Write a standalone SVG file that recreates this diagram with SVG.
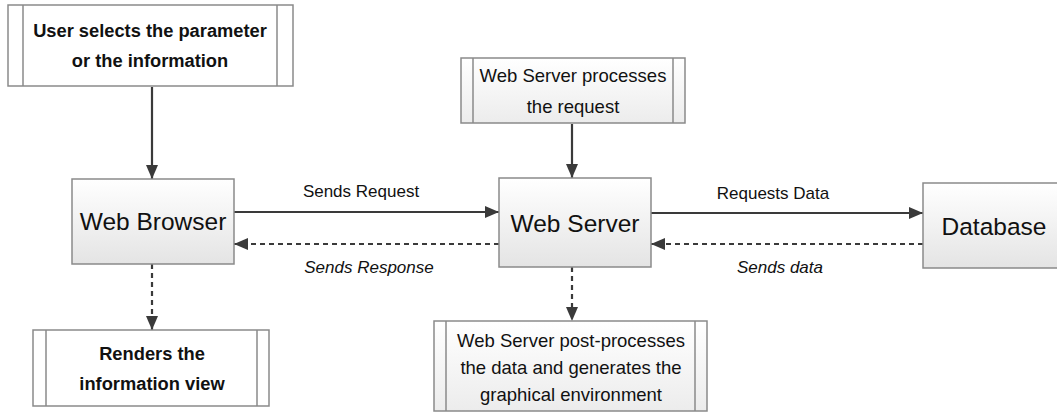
<svg xmlns="http://www.w3.org/2000/svg" width="1057" height="413" viewBox="0 0 1057 413">
<defs>
<linearGradient id="g" x1="0" y1="0" x2="0" y2="1">
<stop offset="0" stop-color="#ffffff"/>
<stop offset="1" stop-color="#e4e4e4"/>
</linearGradient>
<linearGradient id="g2" x1="0" y1="0" x2="0" y2="1">
<stop offset="0" stop-color="#ffffff"/>
<stop offset="1" stop-color="#ececec"/>
</linearGradient>
<marker id="ah" viewBox="0 0 14 12" refX="14" refY="6" markerWidth="14" markerHeight="12" markerUnits="userSpaceOnUse" orient="auto">
<path d="M0,0 L14,6 L0,12 Z" fill="#3a3a3a"/>
</marker>
</defs>
<style>
.box{fill:url(#g);stroke:#8a8a8a;stroke-width:1.5}
.sub{fill:url(#g2);stroke:#8a8a8a;stroke-width:1.5}
.plain{fill:#ffffff;stroke:#8a8a8a;stroke-width:1.5}
.in{stroke:#8a8a8a;stroke-width:1.5;fill:none}
.t{font-family:"Liberation Sans",Arial,sans-serif;fill:#111;text-anchor:middle}
.big{font-size:24.5px}
.mid{font-size:18.5px}
.b{font-weight:bold;font-size:18.3px}
.lab{font-size:17px}
.it{font-style:italic}
.c{stroke:#3a3a3a;stroke-width:2.2;fill:none;marker-end:url(#ah)}
.d{stroke-dasharray:5,4}
</style>
<rect width="1057" height="413" fill="#ffffff"/>
<g id="connectors">
<line class="c" x1="152" y1="87" x2="152" y2="179"/>
<line class="c" x1="234" y1="212" x2="499" y2="212"/>
<line class="c d" x1="499" y1="244" x2="234" y2="244"/>
<line class="c" x1="572" y1="124" x2="572" y2="178"/>
<line class="c d" x1="572" y1="267" x2="572" y2="321"/>
<line class="c" x1="651" y1="213" x2="923" y2="213"/>
<line class="c d" x1="923" y1="244" x2="651" y2="244"/>
<line class="c d" x1="152" y1="264" x2="152" y2="330"/>
<text class="t lab" x="361" y="197">Sends Request</text>
<text class="t lab it" x="369" y="273">Sends Response</text>
<text class="t lab" x="773" y="199">Requests Data</text>
<text class="t lab it" x="780" y="273">Sends data</text>
</g>
<g id="user-selects">
<rect class="plain" x="8" y="5" width="285" height="81"/>
<line class="in" x1="23" y1="5" x2="23" y2="86"/>
<line class="in" x1="277" y1="5" x2="277" y2="86"/>
<text class="t b" x="150" y="37">User selects the parameter</text>
<text class="t b" x="150" y="67">or the information</text>
</g>
<g id="web-browser">
<rect class="box" x="72" y="179" width="162" height="85"/>
<text class="t big" x="153" y="230">Web Browser</text>
</g>
<g id="renders">
<rect class="plain" x="33" y="330" width="236" height="76"/>
<line class="in" x1="46" y1="330" x2="46" y2="406"/>
<line class="in" x1="257" y1="330" x2="257" y2="406"/>
<text class="t b" x="152" y="360">Renders the</text>
<text class="t b" x="152" y="390">information view</text>
</g>
<g id="ws-processes">
<rect class="sub" x="461" y="58" width="224" height="65"/>
<line class="in" x1="473" y1="58" x2="473" y2="123"/>
<line class="in" x1="673" y1="58" x2="673" y2="123"/>
<text class="t mid" x="573" y="82">Web Server processes</text>
<text class="t mid" x="573" y="113">the request</text>
</g>
<g id="web-server">
<rect class="box" x="499" y="178" width="152" height="89"/>
<text class="t big" x="575" y="232">Web Server</text>
</g>
<g id="ws-post">
<rect class="sub" x="434" y="321" width="273" height="90"/>
<line class="in" x1="446" y1="321" x2="446" y2="411"/>
<line class="in" x1="695" y1="321" x2="695" y2="411"/>
<text class="t mid" x="571" y="347">Web Server post-processes</text>
<text class="t mid" x="571" y="374">the data and generates the</text>
<text class="t mid" x="571" y="401">graphical environment</text>
</g>
<g id="database">
<rect class="box" x="923" y="183" width="140" height="85"/>
<text class="t big" x="994" y="235">Database</text>
</g>
</svg>
